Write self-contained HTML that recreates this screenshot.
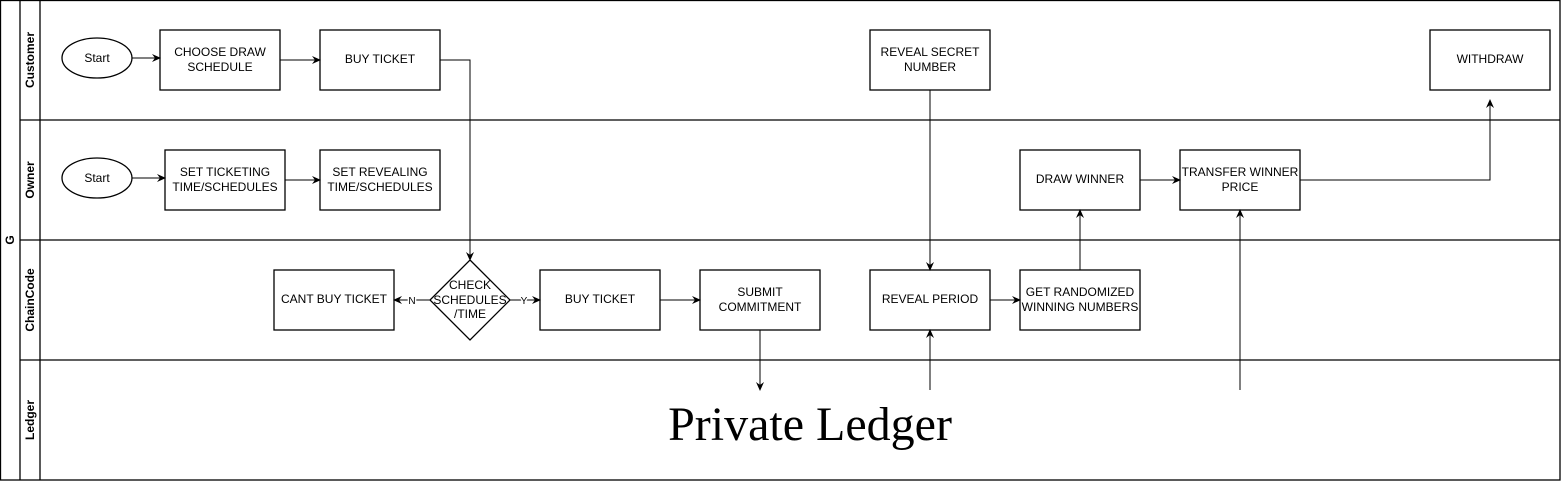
<!DOCTYPE html>
<html><head><style>body{margin:0;background:#fff}svg{display:block}</style></head><body>
<svg width="1561" height="481" viewBox="0 0 1561 481" xmlns="http://www.w3.org/2000/svg" font-family="Liberation Sans, sans-serif" font-size="12">
<defs><marker id="a" markerWidth="10" markerHeight="10" refX="8" refY="5" orient="auto" markerUnits="userSpaceOnUse"><path d="M0,1 L9,5 L0,9 L3,5 Z" fill="#000"/></marker></defs>
<g fill="none" stroke="#000" stroke-width="1.3">
<rect x="0.5" y="0.5" width="1559.5" height="479.5"/>
<line x1="20" y1="0" x2="20" y2="480"/><line x1="40" y1="0" x2="40" y2="480"/>
<line x1="20" y1="120" x2="1560" y2="120"/><line x1="20" y1="240" x2="1560" y2="240"/><line x1="20" y1="360" x2="1560" y2="360"/>
<ellipse cx="97" cy="58" rx="35" ry="20"/><ellipse cx="97" cy="178" rx="35" ry="20"/>
<rect x="160" y="30" width="120" height="60"/><rect x="320" y="30" width="120" height="60"/>
<rect x="870" y="30" width="120" height="60"/><rect x="1430" y="30" width="120" height="60"/>
<rect x="165" y="150" width="120" height="60"/><rect x="320" y="150" width="120" height="60"/>
<rect x="1020" y="150" width="120" height="60"/><rect x="1180" y="150" width="120" height="60"/>
<rect x="274" y="270" width="120" height="60"/><path d="M470,260 L510,300 L470,340 L430,300 Z"/>
<rect x="540" y="270" width="120" height="60"/><rect x="700" y="270" width="120" height="60"/>
<rect x="870" y="270" width="120" height="60"/><rect x="1020" y="270" width="120" height="60"/>
</g>
<g fill="none" stroke="#000" stroke-width="1" marker-end="url(#a)">
<path d="M132,58 H160"/><path d="M280,60 H320"/><path d="M132,178 H165"/><path d="M285,180 H320"/>
<path d="M440,60 H470 V260"/><path d="M930,90 V270"/>
<path d="M430,300 H394"/><path d="M510,300 H540"/><path d="M660,300 H700"/><path d="M990,300 H1020"/>
<path d="M760,330 V390"/><path d="M930,390 V330"/><path d="M1240,390 V210"/><path d="M1080,270 V210"/>
<path d="M1140,180 H1180"/><path d="M1300,180 H1490 V100"/>
</g>
<g text-anchor="middle" fill="#000">
<text x="97" y="62">Start</text><text x="97" y="182">Start</text>
<text x="220" y="56">CHOOSE DRAW</text><text x="220" y="71">SCHEDULE</text>
<text x="380" y="63">BUY TICKET</text>
<text x="930" y="56">REVEAL SECRET</text><text x="930" y="71">NUMBER</text>
<text x="1490" y="63">WITHDRAW</text>
<text x="225" y="176">SET TICKETING</text><text x="225" y="191">TIME/SCHEDULES</text>
<text x="380" y="176">SET REVEALING</text><text x="380" y="191">TIME/SCHEDULES</text>
<text x="1080" y="183">DRAW WINNER</text>
<text x="1240" y="176">TRANSFER WINNER</text><text x="1240" y="191">PRICE</text>
<text x="334" y="303">CANT BUY TICKET</text>
<text x="470" y="289">CHECK</text><text x="470" y="304">SCHEDULES</text><text x="470" y="318">/TIME</text>
<text x="600" y="303">BUY TICKET</text>
<text x="760" y="296">SUBMIT</text><text x="760" y="311">COMMITMENT</text>
<text x="930" y="303">REVEAL PERIOD</text>
<text x="1080" y="296">GET RANDOMIZED</text><text x="1080" y="311">WINNING NUMBERS</text>
<text x="412" y="304" font-size="10" style="paint-order:stroke" stroke="#fff" stroke-width="3">N</text>
<text x="524" y="304" font-size="10" style="paint-order:stroke" stroke="#fff" stroke-width="3">Y</text>
<text x="810" y="440" font-family="Liberation Serif, serif" font-size="48">Private Ledger</text>
</g>
<g font-weight="bold" font-size="12" text-anchor="middle">
<text transform="translate(34,60) rotate(-90)">Customer</text>
<text transform="translate(34,180) rotate(-90)">Owner</text>
<text transform="translate(34,300) rotate(-90)">ChainCode</text>
<text transform="translate(34,420) rotate(-90)">Ledger</text>
<text transform="translate(14,240) rotate(-90)">G</text>
</g>
</svg>
</body></html>
